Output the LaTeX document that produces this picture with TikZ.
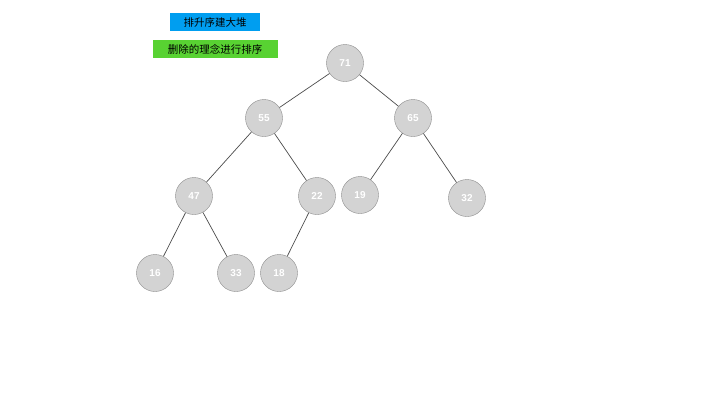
\documentclass[tikz,border=0pt]{standalone}
\usepackage{fontspec}
\setmainfont{Liberation Sans}
\newfontfamily\cjk{Noto Sans CJK SC}
\definecolor{nodefill}{RGB}{211,211,211}
\definecolor{nodeline}{RGB}{140,140,140}
\definecolor{tagblue}{RGB}{0,158,240}
\definecolor{taggreen}{RGB}{88,210,50}
\begin{document}
\begin{tikzpicture}[x=1pt,y=-1pt,
  heapnode/.style={circle,draw=nodeline,fill=nodefill,minimum size=37pt,inner sep=0pt,
    text=white,font=\bfseries\fontsize{10}{11}\selectfont},
  tag/.style={inner sep=0pt,minimum height=18pt,text=black,font=\cjk\fontsize{10.5}{12}\selectfont},
  link/.style={draw=black!70,line width=0.7pt}]
\useasboundingbox[fill=white] (0,0) rectangle (720,405);
% header tags
\node[tag,fill=tagblue,minimum width=90pt] (t1) at (215,22) {排升序建大堆};
\node[tag,fill=taggreen,minimum width=125pt] (t2) at (215,49) {删除的理念进行排序};
% heap nodes
\node[heapnode] (n71) at (345,63) {71};
\node[heapnode] (n55) at (264,118) {55};
\node[heapnode] (n65) at (413,118) {65};
\node[heapnode] (n47) at (194,196) {47};
\node[heapnode] (n22) at (317,196) {22};
\node[heapnode] (n19) at (360,195) {19};
\node[heapnode] (n32) at (467,198) {32};
\node[heapnode] (n16) at (155,273) {16};
\node[heapnode] (n33) at (236,273) {33};
\node[heapnode] (n18) at (279,273) {18};
% edges
\draw[link] (n71) -- (n55);
\draw[link] (n71) -- (n65);
\draw[link] (n55) -- (n47);
\draw[link] (n55) -- (n22);
\draw[link] (n65) -- (n19);
\draw[link] (n65) -- (n32);
\draw[link] (n47) -- (n16);
\draw[link] (n47) -- (n33);
\draw[link] (n22) -- (n18);
\end{tikzpicture}
\end{document}
